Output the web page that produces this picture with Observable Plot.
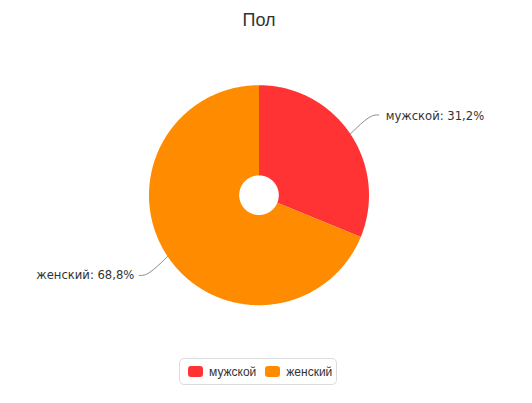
<!DOCTYPE html>
<html><head><meta charset="utf-8">
<script src="https://cdn.jsdelivr.net/npm/d3@7"></script>
<script src="https://cdn.jsdelivr.net/npm/@observablehq/plot@0.6"></script>
<style>
html,body{margin:0;padding:0;background:#fff;}
#chart{position:relative;width:532px;height:403px;overflow:hidden;}
#chart svg{position:absolute;left:0;top:0;}
#title{position:absolute;left:0;top:11px;width:518px;text-align:center;font-family:"Liberation Sans",Arial,sans-serif;font-size:18px;line-height:18px;color:#333;z-index:2;}
#legend{position:absolute;left:179px;top:358px;width:156px;height:25px;border:1px solid #dcdcdc;border-radius:5px;display:flex;align-items:center;font-family:"Liberation Sans",Arial,sans-serif;font-size:12px;color:#333;z-index:2;box-sizing:content-box;}
.item{display:flex;align-items:center;margin-left:8px;}
.item + .item{margin-left:9px;}
.sw{width:15px;height:11px;border-radius:3px;margin-right:6px;}
</style></head>
<body><div id="chart"><div id="title">Пол</div></div>
<script>
const categories = ["мужской", "женский"];
const shares = [31.2, 68.8];
const shareLabels = ["31,2%", "68,8%"];
const colors = ["#FF3333", "#FF8C00"];

const cx = 258.5, cy = 194.7, R = 110;
const innerRatio = 0.18;
const labelRadius = 1.31;

// slice geometry derived from the data shares
let cum = 0;
const slices = categories.map((key, i) => {
  const a0 = cum / 100 * 2 * Math.PI;
  cum += shares[i];
  const a1 = cum / 100 * 2 * Math.PI;
  return {key, a0, a1, mid: (a0 + a1) / 2, label: `${key}: ${shareLabels[i]}`};
});

const piePoints = [];
for (const s of slices) {
  const n = Math.max(2, Math.ceil((s.a1 - s.a0) / 0.01));
  for (let j = 0; j <= n; j++) {
    const t = s.a0 + (s.a1 - s.a0) * j / n;
    piePoints.push({key: s.key, x: Math.sin(t), y: Math.cos(t)});
  }
  for (let j = n; j >= 0; j--) {
    const t = s.a0 + (s.a1 - s.a0) * j / n;
    piePoints.push({key: s.key, x: innerRatio * Math.sin(t), y: innerRatio * Math.cos(t)});
  }
}

const leaderPoints = [];
const labels = [];
for (const s of slices) {
  const sx = Math.sin(s.mid), sy = Math.cos(s.mid);
  const side = sx >= 0 ? 1 : -1;
  const ex = sx * labelRadius, ey = sy * labelRadius;
  leaderPoints.push({key: s.key, x: sx, y: sy});
  leaderPoints.push({key: s.key, x: ex - side * 0.08, y: ey});
  leaderPoints.push({key: s.key, x: ex, y: ey});
  labels.push({key: s.key, x: ex, y: ey, side, text: s.label});
}

const plot = Plot.plot({
  width: 532,
  height: 403,
  margin: 0,
  style: {background: "transparent", fontFamily: "DejaVu Sans, sans-serif"},
  x: {domain: [-1, 1], range: [cx - R, cx + R], axis: null},
  y: {domain: [-1, 1], range: [cy + R, cy - R], axis: null},
  color: {domain: categories, range: colors},
  marks: [
    Plot.line(piePoints, {x: "x", y: "y", z: "key", fill: "key", stroke: "none"}),
    Plot.line(leaderPoints, {x: "x", y: "y", z: "key", stroke: "#8a8a8a", strokeWidth: 1, curve: "basis"}),
    Plot.text(labels.filter(d => d.side > 0), {x: "x", y: "y", text: "text", textAnchor: "start", dx: 7, dy: 1, fontSize: 11.6, fill: "#333"}),
    Plot.text(labels.filter(d => d.side < 0), {x: "x", y: "y", text: "text", textAnchor: "end", dx: -5, dy: 0, fontSize: 11.6, fill: "#333"})
  ]
});

const chart = document.getElementById("chart");
chart.appendChild(plot);

const legend = document.createElement("div");
legend.id = "legend";
categories.forEach((c, i) => {
  const item = document.createElement("div");
  item.className = "item";
  const sw = document.createElement("div");
  sw.className = "sw";
  sw.style.background = colors[i];
  const tx = document.createElement("span");
  tx.textContent = c;
  item.appendChild(sw);
  item.appendChild(tx);
  legend.appendChild(item);
});
chart.appendChild(legend);
</script>
</body></html>
